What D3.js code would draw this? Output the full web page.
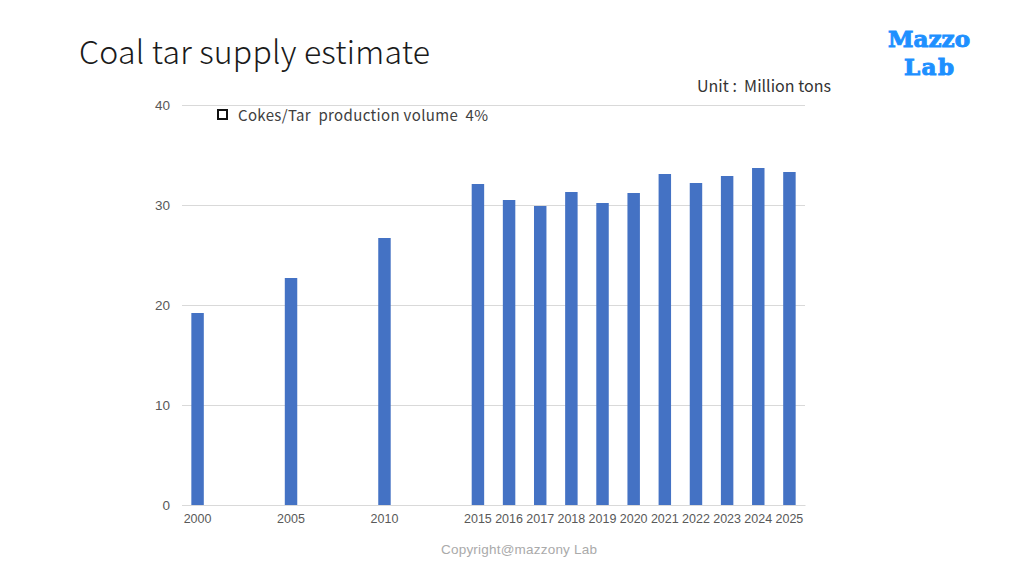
<!DOCTYPE html>
<html>
<head>
<meta charset="utf-8">
<script src="https://cdn.jsdelivr.net/npm/d3@7"></script>
<style>
  body { margin: 0; background: #fff; }
  svg { display: block; }
</style>
</head>
<body>
<div id="chart"></div>
<script>
// category slots (blank slots keep the gaps between 2000/2005/2010/2015)
const years = ["2000", "", "", "2005", "", "", "2010", "", "", "2015", "2016", "2017", "2018",
               "2019", "2020", "2021", "2022", "2023", "2024", "2025"];
const production = [19.2, null, null, 22.7, null, null, 26.7, null, null, 32.1, 30.5, 29.9, 31.3,
                    30.2, 31.2, 33.1, 32.2, 32.9, 33.7, 33.3];
const yTicks = [0, 10, 20, 30, 40];

function PlotChart(parent_element) {
  const W = 1024, H = 576;
  const margin = {top: 105, left: 182, right: 219, bottom: 71};
  const width = W - margin.left - margin.right;
  const height = H - margin.top - margin.bottom;

  const svg = d3.select(`#${parent_element}`)
    .append("svg")
    .attr("width", W)
    .attr("height", H);

  svg.append("text")
    .attr("x", 79).attr("y", 64)
    .attr("font-family", "'Noto Sans CJK JP', 'Noto Sans', sans-serif")
    .attr("font-weight", 300)
    .attr("font-size", 32)
    .attr("fill", "#1a1a1a")
    .attr("textLength", 351)
    .text("Coal tar supply estimate");

  // logo
  const logo = svg.append("g")
    .attr("font-family", "'DejaVu Serif', serif")
    .attr("font-weight", "bold")
    .attr("font-size", 23)
    .attr("fill", "#1E90FF")
    .attr("stroke", "#1E90FF")
    .attr("stroke-width", 1)
    .attr("text-anchor", "middle");
  logo.append("text").attr("x", 929).attr("y", 47).attr("textLength", 82).text("Mazzo");
  logo.append("text").attr("x", 929).attr("y", 75).attr("textLength", 50).text("Lab");

  svg.append("text")
    .attr("x", 697).attr("y", 92)
    .attr("font-family", "'Noto Sans CJK JP', 'Noto Sans', sans-serif")
    .attr("font-size", 16)
    .attr("fill", "#333")
    .attr("xml:space", "preserve")
    .attr("textLength", 134)
    .text("Unit :  Million tons");

  const g = svg.append("g")
    .attr("transform", `translate(${margin.left},${margin.top})`);

  const x = d3.scaleBand().domain(d3.range(years.length)).range([0, width]).paddingInner(0.6).paddingOuter(0.3);
  const y = d3.scaleLinear().domain([0, 40]).range([height, 0]);

  // grid
  g.append("g")
    .call(d3.axisLeft(y).tickValues(yTicks).tickSize(-width).tickPadding(12))
    .call(s => s.select(".domain").remove())
    .call(s => s.selectAll(".tick line").attr("stroke", "#d9d9d9"))
    .call(s => s.selectAll(".tick text")
      .attr("fill", "#595959")
      .attr("font-size", 13.5)
      .attr("font-family", "'Liberation Sans', Arial, sans-serif"));

  g.selectAll("rect.bar")
    .data(production.map((v, i) => ({i, v})).filter(d => d.v !== null))
    .enter().append("rect")
    .attr("class", "bar")
    .attr("x", d => x(d.i))
    .attr("y", d => y(d.v))
    .attr("width", x.bandwidth())
    .attr("height", d => height - y(d.v))
    .attr("fill", "#4472C4");

  g.append("g")
    .attr("transform", `translate(0,${height})`)
    .call(d3.axisBottom(x).tickFormat(i => years[i]).tickSize(0).tickPadding(9))
    .call(s => s.select(".domain").attr("stroke", "#d9d9d9"))
    .call(s => s.selectAll(".tick text")
      .attr("fill", "#595959")
      .attr("font-size", 12.5)
      .attr("font-family", "'Liberation Sans', Arial, sans-serif"));

  // legend
  svg.append("rect")
    .attr("x", 218).attr("y", 110).attr("width", 9).attr("height", 9)
    .attr("fill", "#fff").attr("stroke", "#111").attr("stroke-width", 2);
  svg.append("text")
    .attr("x", 238).attr("y", 121)
    .attr("font-family", "'Noto Sans CJK JP', 'Noto Sans', sans-serif")
    .attr("font-size", 15)
    .attr("fill", "#404040")
    .attr("xml:space", "preserve")
    .attr("textLength", 250)
    .text("Cokes/Tar  production volume  4%");

  svg.append("text")
    .attr("x", 519).attr("y", 554)
    .attr("text-anchor", "middle")
    .attr("font-family", "'Liberation Sans', sans-serif")
    .attr("font-size", 13.5)
    .attr("fill", "#aaaaaa")
    .attr("textLength", 156)
    .text("Copyright@mazzony Lab");
}

document.addEventListener('DOMContentLoaded', () => {
  PlotChart("chart");
});
</script>
</body>
</html>
